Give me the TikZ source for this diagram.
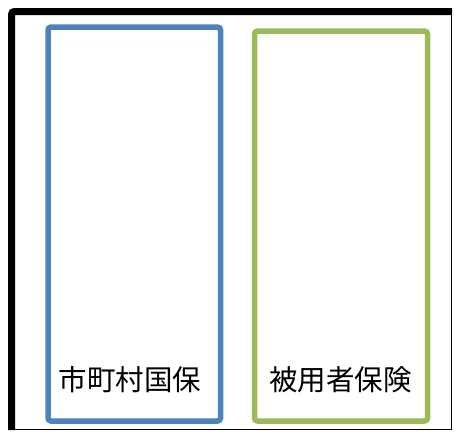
\documentclass[tikz,border=0pt]{standalone}
\usepackage{fontspec}
\newfontfamily\cjk{Noto Sans CJK JP}
\definecolor{boxblue}{HTML}{4F81BD}
\definecolor{boxgreen}{HTML}{9BBB59}
\begin{document}
\begin{tikzpicture}[x=1pt,y=-1pt,
  box/.style={draw, line width=5.5pt, rounded corners=3pt, inner sep=0pt},
  lbl/.style={font=\cjk\fontsize{28.5}{30}\selectfont, inner sep=0pt, text=black}]
\useasboundingbox (0,0) rectangle (454,431);
% frame
\draw[line width=7pt, rounded corners=3pt] (11.5,430) -- (11.5,11.5) -- (452,11.5);
\draw[line width=1pt] (451.3,15) -- (451.3,429.5) -- (15,429.5);
% boxes
\node[box, draw=boxblue, minimum width=172.5pt, minimum height=394pt] (kokuho) at (134.25,224) {};
\node[box, draw=boxgreen, minimum width=173pt, minimum height=390pt] (hiyo) at (341,226) {};
% labels
\node[lbl] (kokuholbl) at (130,380) {市町村国保};
\node[lbl] (hiyolbl) at (340.5,380) {被用者保険};
\end{tikzpicture}
\end{document}
